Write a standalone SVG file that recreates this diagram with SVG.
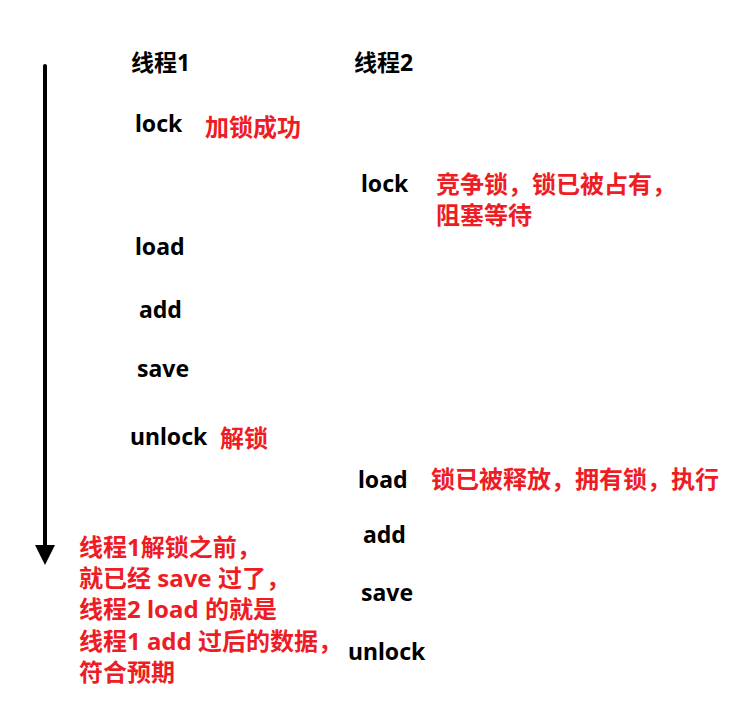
<svg xmlns="http://www.w3.org/2000/svg" width="756" height="708" viewBox="0 0 756 708">
<style>
.b{font-family:"Noto Sans","Noto Sans CJK SC",sans-serif;font-weight:bold;font-size:23px;fill:#000}
.r{font-family:"Noto Sans","Noto Sans CJK SC",sans-serif;font-weight:bold;font-size:24px;fill:#ee1c25}
</style>
<defs>
<marker id="ah" markerWidth="5" markerHeight="5" refX="2" refY="2.5" orient="auto" markerUnits="strokeWidth">
<path d="M0,0 L5,2.5 L0,5 Z" fill="#000"/>
</marker>
</defs>
<rect width="756" height="708" fill="#fff"/>
<g id="connectors">
<line x1="45" y1="66" x2="45" y2="553" stroke="#000" stroke-width="4" stroke-linecap="round" marker-end="url(#ah)"/>
</g>
<g id="t1-title"><text class="b" x="131" y="71">线程1</text></g>
<g id="t2-title"><text class="b" x="354" y="71">线程2</text></g>
<g id="t1-lock"><text class="b" x="135" y="132">lock</text><text class="r" x="205" y="136">加锁成功</text></g>
<g id="t2-lock"><text class="b" x="361" y="192">lock</text><text class="r" x="436" y="193">竞争锁，锁已被占有，</text><text class="r" x="436" y="224">阻塞等待</text></g>
<g id="t1-load"><text class="b" x="135" y="255">load</text></g>
<g id="t1-add"><text class="b" x="139" y="318">add</text></g>
<g id="t1-save"><text class="b" x="137" y="377">save</text></g>
<g id="t1-unlock"><text class="b" x="130" y="445">unlock</text><text class="r" x="220" y="447">解锁</text></g>
<g id="t2-load"><text class="b" x="358" y="488">load</text><text class="r" x="431" y="488">锁已被释放，拥有锁，执行</text></g>
<g id="t2-add"><text class="b" x="363" y="543">add</text></g>
<g id="t2-save"><text class="b" x="361" y="601">save</text></g>
<g id="t2-unlock"><text class="b" x="348" y="660">unlock</text></g>
<g id="note">
<text class="r" x="79" y="556">线程1解锁之前，</text>
<text class="r" x="79" y="587">就已经 save 过了，</text>
<text class="r" x="79" y="618">线程2 load 的就是</text>
<text class="r" x="79" y="650">线程1 add 过后的数据，</text>
<text class="r" x="79" y="681">符合预期</text>
</g>
</svg>
